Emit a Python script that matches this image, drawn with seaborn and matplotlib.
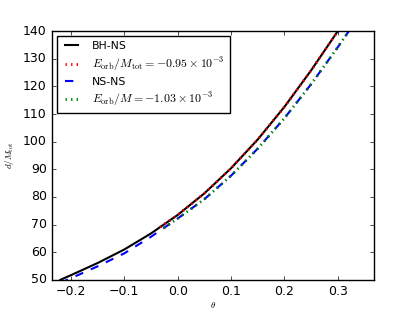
import numpy as np
import seaborn as sns
import matplotlib.pyplot as plt

# curve data (theta, d/M_tot)
theta_bhns = [-0.22, -0.20, -0.15, -0.10, -0.05, 0.00, 0.05, 0.10, 0.15, 0.20, 0.25, 0.30, 0.31]
d_bhns = [50.0, 51.7, 56.1, 61.0, 66.8, 73.5, 81.3, 90.4, 100.8, 112.6, 125.8, 140.0, 143.0]

theta_bhns_e = [-0.033, 0.00, 0.05, 0.10, 0.15, 0.20, 0.25, 0.30, 0.31]
d_bhns_e = [69.1, 73.5, 81.3, 90.4, 100.8, 112.6, 125.8, 140.0, 143.0]

theta_nsns = [-0.22, -0.20, -0.15, -0.10, -0.05, 0.00, 0.05, 0.10, 0.15, 0.20, 0.25, 0.30, 0.33]
d_nsns = [48.9, 50.6, 54.9, 59.6, 65.6, 72.2, 79.2, 87.7, 97.5, 108.5, 120.8, 134.2, 142.6]

theta_nsns_e = [-0.026, 0.00, 0.05, 0.10, 0.15, 0.20, 0.25, 0.30, 0.33]
d_nsns_e = [68.8, 72.2, 79.2, 87.7, 97.5, 108.5, 120.8, 134.2, 142.6]

labels = ['BH-NS', r'$E_{\rm orb}/M_{\rm tot}=-0.95\times 10^{-3}$',
          'NS-NS', r'$E_{\rm orb}/M=-1.03\times 10^{-3}$']

plt.style.use('classic')
plt.rcParams['mathtext.fontset'] = 'cm'

fig, ax = plt.subplots(figsize=(4.15, 3.12), dpi=100)
fig.patch.set_facecolor('white')
fig.subplots_adjust(left=0.126, right=0.9, bottom=0.103, top=0.9)

sns.lineplot(x=theta_bhns, y=d_bhns, ax=ax, color='black', lw=1.5, sort=False,
             estimator=None, label=labels[0])
sns.lineplot(x=theta_bhns_e, y=d_bhns_e, ax=ax, color='red', lw=2.0, ls=':', sort=False,
             estimator=None, label=labels[1])
sns.lineplot(x=theta_nsns, y=d_nsns, ax=ax, color='blue', lw=1.5, ls='--', sort=False,
             estimator=None, label=labels[2])
sns.lineplot(x=theta_nsns_e, y=d_nsns_e, ax=ax, color='green', lw=2.0, ls=':', sort=False,
             estimator=None, label=labels[3])

ax.set_xlim(-0.235, 0.367)
ax.set_ylim(50, 140)
ax.set_xticks([-0.2, -0.1, 0.0, 0.1, 0.2, 0.3])
ax.set_yticks(range(50, 141, 10))
ax.tick_params(labelsize=9, length=3)
ax.set_xlabel(r'$\theta$', fontsize=6.5, labelpad=1)
ax.set_ylabel(r'$d/M_{\rm tot}$', fontsize=6.5)

leg = ax.legend(loc='upper left', fontsize=7.8, handlelength=1.8, handletextpad=1.0,
                borderpad=0.45, borderaxespad=0.45, labelspacing=0.35)
for t in leg.get_texts()[1::2]:
    t.set_fontsize(8.6)

fig.savefig('out.png', dpi=100, facecolor='white')
